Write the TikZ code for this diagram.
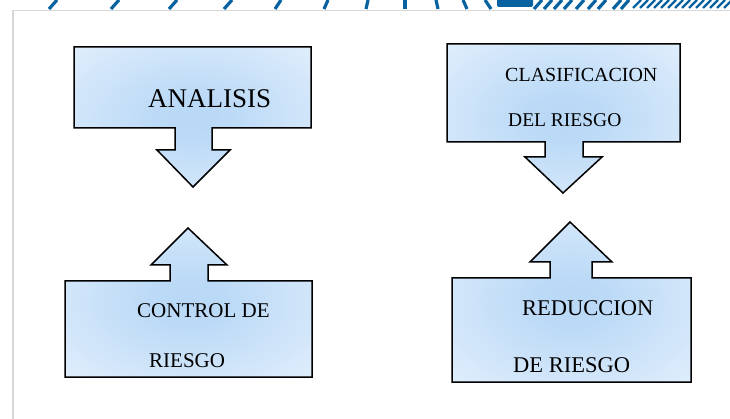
\documentclass[tikz,border=0pt]{standalone}
\usepackage{fontspec}
\setmainfont{Liberation Serif}
\definecolor{brushblue}{RGB}{8,98,160}
\definecolor{framegray}{RGB}{215,215,215}
\definecolor{boxin}{RGB}{184,216,246}
\definecolor{boxout}{RGB}{232,242,253}
\pgfdeclareradialshading{boxglow}{\pgfpoint{0bp}{0bp}}{color(0bp)=(boxin); color(8bp)=(boxin!92!boxout);
    color(42bp)=(boxout); color(50bp)=(boxout)}
\begin{document}
\begin{tikzpicture}[x=1pt,y=-1pt,
    callout/.style={draw=black, line width=1.5pt, shading=boxglow},
    brush/.style={brushblue, line width=3.2pt}]
\tikzset{every node/.style={anchor=base west, inner sep=0pt, text=black}}
\useasboundingbox (0,0) rectangle (730,419);
% frame
\draw[framegray, line width=1.5pt] (13,419) -- (13,10.5) -- (730,10.5);
% brush strokes on top
\foreach \x/\d in {53/4,115/4,173/4,228/4,278/3,326/2,367/1,405/0,437/-1,465/-2,488/-3,
                   538/4,548/4,558/4,568/4,580/4,592/4,602/4,617/4,625/4}
    \draw[brush] (\x-\d,9) -- (\x+\d,0);
\foreach \x in {637,644,...,730}
    \draw[brush, line width=2.4pt] (\x-4,8) -- (\x+4,0);
\fill[brushblue, rounded corners=2pt] (497,-2) rectangle (533,7);
% boxes
\draw[callout] (74,47) -- (311,47) -- (311,128) -- (212,128) -- (212,150) -- (230,150)
    -- (193,187) -- (157,150) -- (175,150) -- (175,128) -- (74,128) -- cycle;
\draw[callout] (447,44) -- (680,44) -- (680,142) -- (583,142) -- (583,157) -- (602,157)
    -- (563,193) -- (525,157) -- (545,157) -- (545,142) -- (447,142) -- cycle;
\draw[callout] (65,377) -- (312,377) -- (312,281) -- (208,281) -- (208,265) -- (227,265)
    -- (188,228) -- (151,265) -- (170,265) -- (170,281) -- (65,281) -- cycle;
\draw[callout] (452,382) -- (691,382) -- (691,278) -- (592,278) -- (592,262) -- (612,262)
    -- (570,222) -- (530,262) -- (550,262) -- (550,278) -- (452,278) -- cycle;
% texts
\node[font=\fontsize{27}{27}\selectfont] (analisis) at (148,108) {ANALISIS};
\node[font=\fontsize{20}{20}\selectfont] (clasif1) at (505,82) {CLASIFICACION};
\node[font=\fontsize{19.5}{20}\selectfont] (clasif2) at (508,127) {DEL RIESGO};
\node[font=\fontsize{21}{21}\selectfont] (control1) at (137,317) {CONTROL DE};
\node[font=\fontsize{21}{21}\selectfont] (control2) at (149,367) {RIESGO};
\node[font=\fontsize{22.5}{23}\selectfont] (reduc1) at (522,316) {REDUCCION};
\node[font=\fontsize{22.5}{23}\selectfont] (reduc2) at (513,372) {DE RIESGO};
\end{tikzpicture}
\end{document}
